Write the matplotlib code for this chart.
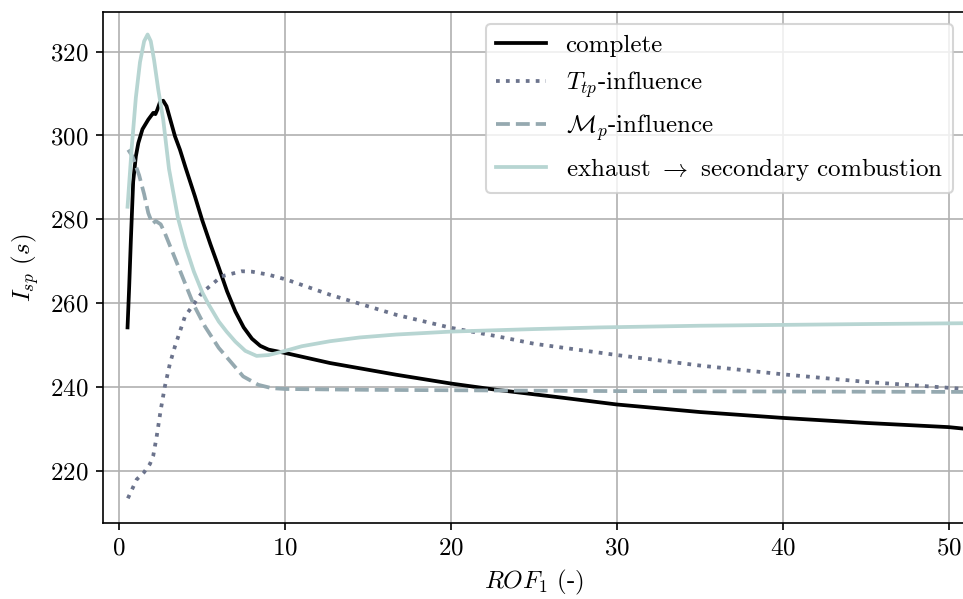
import matplotlib
matplotlib.use("Agg")
import matplotlib.pyplot as plt

plt.rcParams["font.family"] = "serif"
plt.rcParams["font.serif"] = ["cmr10"]
plt.rcParams["mathtext.fontset"] = "cm"
plt.rcParams["axes.formatter.use_mathtext"] = True
plt.rcParams["font.size"] = 12

# complete
rof_complete = [0.5, 0.6, 0.7, 0.84, 1.0, 1.15, 1.4, 1.75, 2.05, 2.18, 2.3, 2.45, 2.65, 2.85,
                3.36, 3.66, 4.0, 4.56, 5.0, 5.5, 6.0, 6.5, 7.0, 7.5, 8.0, 8.5, 9.0, 10,
                12.7, 16.7, 20, 22.75, 26.76, 30, 35, 40, 45, 50, 51]
isp_complete = [254.2, 264, 275, 289, 295, 298.2, 301.5, 303.8, 305.4, 305.1, 306.2, 307.9, 308.3, 307.0,
                299.8, 296.6, 292.3, 285.5, 279.8, 274.0, 268.5, 262.8, 258.0, 254.2, 251.5, 249.8, 248.9, 248.1,
                245.7, 242.9, 240.8, 239.3, 237.4, 235.8, 234.0, 232.6, 231.4, 230.4, 230.0]

# T_tp influence
rof_ttp = [0.52, 1.05, 1.49, 1.85, 2.05, 2.25, 2.5, 2.75, 3.05, 3.36, 3.96, 4.97, 6.17, 7.38, 8.0,
           8.98, 10.09, 12.7, 13.7, 16.7, 20, 22.75, 25, 30, 35, 40, 45, 51]
isp_ttp = [213.4, 217.9, 219.6, 221.6, 223.6, 228.0, 234.5, 240.1, 245.5, 249.7, 256.8, 262.4, 266.4, 267.6, 267.5,
           266.8, 265.6, 262.0, 260.8, 257.2, 254.1, 252.1, 250.3, 247.6, 245.1, 243.0, 241.2, 239.5]

# M_p influence
rof_mp = [0.54, 0.8, 1.2, 1.5, 1.75, 2.0, 2.2, 2.5, 2.75, 3.3, 3.96, 4.5, 5.17, 6.0, 6.78, 7.47, 8.38,
          9.19, 10, 15, 20, 30, 40, 51]
isp_mp = [296.6, 295.0, 290.5, 286.0, 281.5, 278.9, 279.6, 278.8, 276.7, 271.3, 264.8, 259.5, 254.4, 249.3, 245.7, 242.5, 240.5,
          239.7, 239.5, 239.3, 239.2, 239.0, 238.9, 238.8]

# exhaust -> secondary combustion
rof_exh = [0.5, 0.75, 1.0, 1.25, 1.5, 1.71, 1.9, 2.1, 2.35, 2.65, 3.0, 3.54, 4.0, 4.5, 5.0, 5.37, 6.0, 6.47, 7.0,
           7.6, 8.28, 9.0, 10, 11, 12.7, 14.5, 16.7, 20, 25, 29, 35, 40, 45, 51]
isp_exh = [283.0, 297.0, 309.0, 317.5, 322.5, 324.1, 322.5, 318.0, 311.0, 303.8, 292.0, 280.3, 273.5, 267.5, 262.6, 259.8, 255.6, 253.2, 250.8,
           248.6, 247.4, 247.6, 248.6, 249.7, 250.9, 251.8, 252.5, 253.2, 253.8, 254.2, 254.6, 254.8, 255.0, 255.2]

fig = plt.figure(figsize=(963 / 150, 599 / 150), dpi=150)
ax = fig.add_axes([0.1066, 0.1264, 0.8958, 0.8541])

lw = 1.8
ax.plot(rof_complete, isp_complete, color="black", lw=lw, label="complete")
ax.plot(rof_ttp, isp_ttp, color="#6b738c", lw=lw, ls=":", label=r"$T_{tp}$-influence")
ax.plot(rof_mp, isp_mp, color="#95a9b0", lw=lw, ls="--", label=r"$\mathcal{M}_p$-influence")
ax.plot(rof_exh, isp_exh, color="#b7d5d2", lw=lw, label=r"exhaust $\rightarrow$ secondary combustion")

ax.set_xlim(-1, 51)
ax.set_ylim(207.45, 329.55)
ax.set_xticks([0, 10, 20, 30, 40, 50])
ax.set_yticks([220, 240, 260, 280, 300, 320])
ax.set_xlabel(r"$ROF_1$ (-)")
ax.set_ylabel(r"$I_{sp}$ $(s)$")
ax.grid(True)
ax.legend(loc="upper right")

fig.savefig("out.png", dpi=150)
